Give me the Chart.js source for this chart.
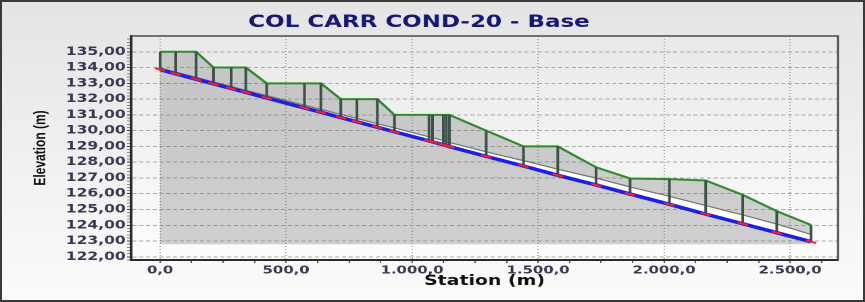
<!DOCTYPE html>
<html>
<head>
<meta charset="utf-8">
<title>COL CARR COND-20 - Base</title>
<script src="https://cdn.jsdelivr.net/npm/chart.js@4.4.1/dist/chart.umd.min.js"></script>
<style>
    body { margin: 0; background: #fff; }
    #wrap { position: relative; width: 865px; height: 302px; overflow: hidden; background: linear-gradient(#e4e4e4, #fbfbfb); }
    #profile { position: absolute; left: 0; top: 0; }
    #frame { position: absolute; left: 0; top: 0; right: 0; bottom: 0; border: 2px solid #3a3a3a; pointer-events: none; }
</style>
</head>
<body>
<div id="wrap">
    <!-- drawn on a narrower canvas and stretched sideways, like the original export -->
    <canvas id="profile" width="640" height="302" style="width: 865px; height: 302px;"></canvas>
    <div id="frame"></div>
</div>
<script>
// sewer profile, stations and elevations in metres (one entry per manhole)
const stations = [0, 62, 143, 212, 282, 340, 423, 573, 638, 717, 781, 862, 930, 1067, 1081, 1124, 1136, 1148,
    1294, 1442, 1578, 1730, 1865, 2021, 2165, 2312, 2447, 2583];
const groundElev = [135.0, 135.0, 135.0, 134.0, 134.0, 134.0, 133.0, 133.0, 133.0, 132.0, 132.0, 132.0, 131.0, 131.0,
    131.0, 131.0, 131.0, 131.0, 130.0, 129.0, 129.0, 127.68, 126.97, 126.93, 126.84, 125.93, 124.9, 124.02];
const crownElev = [133.97, 133.71, 133.38, 133.09, 132.80, 132.56, 132.22, 131.61, 131.35, 131.03, 130.77, 130.44,
    130.17, 129.61, 129.55, 129.38, 129.33, 129.25, 128.66, 128.10, 127.56, 126.99, 126.43, 125.84, 125.25, 124.66,
    124.08, 123.42];
const invertElev = [133.87, 133.60, 133.26, 132.97, 132.67, 132.43, 132.07, 131.44, 131.17, 130.83, 130.56, 130.22,
    129.93, 129.35, 129.29, 129.11, 129.06, 128.99, 128.37, 127.76, 127.17, 126.56, 125.98, 125.33, 124.71, 124.10,
    123.53, 122.96];
const baseElev = 122.8;

const xTickValues = [0, 500, 1000, 1500, 2000, 2500];
const xTickLabels = ['0,0', '500,0', '1.000,0', '1.500,0', '2.000,0', '2.500,0'];
const xMinorTicks = [0, 125, 250, 375, 500, 625, 750, 875, 1000, 1125, 1250, 1375, 1500, 1625, 1750, 1875,
    2000, 2125, 2250, 2375, 2500, 2625];
const yTickValues = [122, 123, 124, 125, 126, 127, 128, 129, 130, 131, 132, 133, 134, 135];
const yTickLabels = ['122,00', '123,00', '124,00', '125,00', '126,00', '127,00', '128,00', '129,00', '130,00',
    '131,00', '132,00', '133,00', '134,00', '135,00'];

const fillGray = 'rgba(110, 110, 110, 0.3)';
const tickColor = '#3d3652';

function toPoints(values) {
    return stations.map((s, i) => ({ x: s, y: values[i] }));
}

// one vertical per manhole, ground down to invert, broken by a null point
function manholePoints() {
    const pts = [];
    stations.forEach((s, i) => {
        pts.push({ x: s, y: groundElev[i] });
        pts.push({ x: s, y: invertElev[i] });
        pts.push({ x: s, y: null });
    });
    return pts;
}

function buildYTicks() {
    const ticks = [];
    for (let k = 0; k <= 70; k++) {
        const v = Math.round((121.8 + k * 0.2) * 10) / 10;
        ticks.push({ value: v, major: yTickValues.includes(v) });
    }
    return ticks;
}

const plotBox = {
    id: 'plotBox',
    beforeDraw(chart) {
        const { ctx, chartArea: a } = chart;
        const g = ctx.createLinearGradient(0, a.top, 0, a.bottom);
        g.addColorStop(0, '#e9e9e9');
        g.addColorStop(1, '#fdfdfd');
        ctx.save();
        ctx.fillStyle = g;
        ctx.fillRect(a.left, a.top, a.right - a.left, a.bottom - a.top);
        ctx.restore();
    },
    afterDraw(chart) {
        const { ctx, chartArea: a } = chart;
        ctx.save();
        ctx.strokeStyle = '#4a4a4a';
        ctx.lineWidth = 1.5;
        ctx.beginPath();
        ctx.moveTo(a.left, a.top);
        ctx.lineTo(a.right, a.top);
        ctx.lineTo(a.right, a.bottom);
        ctx.stroke();
        ctx.restore();
    }
};

new Chart(document.getElementById('profile'), {
    type: 'line',
    data: {
        datasets: [
            {
                // 0 ground
                data: toPoints(groundElev),
                borderColor: '#2f8a2f',
                borderWidth: 2,
                pointRadius: 0,
                fill: 1,
                backgroundColor: fillGray,
                order: 3
            },
            {
                // 1 pipe crown
                data: toPoints(crownElev),
                borderColor: '#747a76',
                borderWidth: 1.2,
                pointRadius: 0,
                fill: 2,
                backgroundColor: 'rgba(255, 255, 255, 0.95)',
                order: 4
            },
            {
                // 2 pipe invert
                data: toPoints(invertElev),
                borderColor: '#1e1ee6',
                borderWidth: 3.5,
                pointRadius: 0,
                fill: { value: baseElev },
                backgroundColor: fillGray,
                order: 1
            },
            {
                // 3 manholes
                data: manholePoints(),
                borderColor: '#3a5346',
                borderWidth: 2,
                pointRadius: 0,
                fill: false,
                order: 2
            },
            {
                // 4 red marks on the invert
                data: toPoints(invertElev),
                showLine: false,
                pointStyle: 'line',
                pointRadius: 4,
                pointRotation: 20,
                pointBorderColor: '#ff2020',
                pointBorderWidth: 2,
                fill: false,
                order: 0
            }
        ]
    },
    options: {
        responsive: false,
        animation: false,
        devicePixelRatio: 2,
        layout: { padding: { left: 0, right: 20, top: 0, bottom: 0 } },
        plugins: {
            legend: { display: false },
            tooltip: { enabled: false },
            title: {
                display: true,
                text: 'COL CARR COND-20 - Base',
                color: '#17177a',
                font: { family: "'DejaVu Sans', Verdana, sans-serif", size: 17, weight: 'bold' },
                padding: { top: 12.3, bottom: 3.3 }
            }
        },
        scales: {
            x: {
                type: 'linear',
                min: -115,
                max: 2690,
                afterBuildTicks: axis => {
                    axis.ticks = xMinorTicks.map(v => ({ value: v, major: xTickValues.includes(v) }));
                },
                afterFit: axis => { axis.height = 42; },
                ticks: {
                    autoSkip: false,
                    maxRotation: 0,
                    padding: 1,
                    color: tickColor,
                    font: { family: "'DejaVu Sans', Verdana, sans-serif", size: 11, weight: 'bold' },
                    callback: value => {
                        const i = xTickValues.indexOf(value);
                        return i >= 0 ? xTickLabels[i] : '';
                    }
                },
                grid: {
                    color: ctx => (ctx.tick && ctx.tick.major ? '#a8a8a8' : 'rgba(0,0,0,0)'),
                    tickColor: '#555',
                    tickLength: 3
                },
                border: { color: '#2b2b2b', width: 2, dash: [1, 2] },
                title: {
                    display: true,
                    text: 'Station (m)',
                    color: '#111',
                    font: { family: "'DejaVu Sans', Verdana, sans-serif", size: 14, weight: 'bold' },
                    padding: { top: 0, bottom: 12 }
                }
            },
            y: {
                type: 'linear',
                min: 121.8,
                max: 136,
                afterBuildTicks: axis => { axis.ticks = buildYTicks(); },
                afterFit: axis => { axis.width = 97; },
                ticks: {
                    autoSkip: false,
                    padding: 1,
                    color: tickColor,
                    font: { family: "'DejaVu Sans', Verdana, sans-serif", size: 11.5, weight: 'bold' },
                    callback: value => {
                        const i = yTickValues.indexOf(value);
                        return i >= 0 ? yTickLabels[i] : '';
                    }
                },
                grid: {
                    color: ctx => (ctx.tick && ctx.tick.major ? '#a8a8a8' : 'rgba(0,0,0,0)'),
                    tickColor: ctx => (ctx.tick && ctx.tick.major ? '#444' : '#8a8a8a'),
                    tickLength: 3
                },
                border: { color: '#2b2b2b', width: 2, dash: [3, 2] },
                title: {
                    display: true,
                    text: 'Elevation (m)',
                    color: '#111',
                    font: { family: "'Liberation Sans Narrow', 'Liberation Sans', sans-serif", size: 12, weight: 'bold' },
                    padding: { top: 23, bottom: 0 }
                }
            }
        }
    },
    plugins: [plotBox]
});
</script>
</body>
</html>
